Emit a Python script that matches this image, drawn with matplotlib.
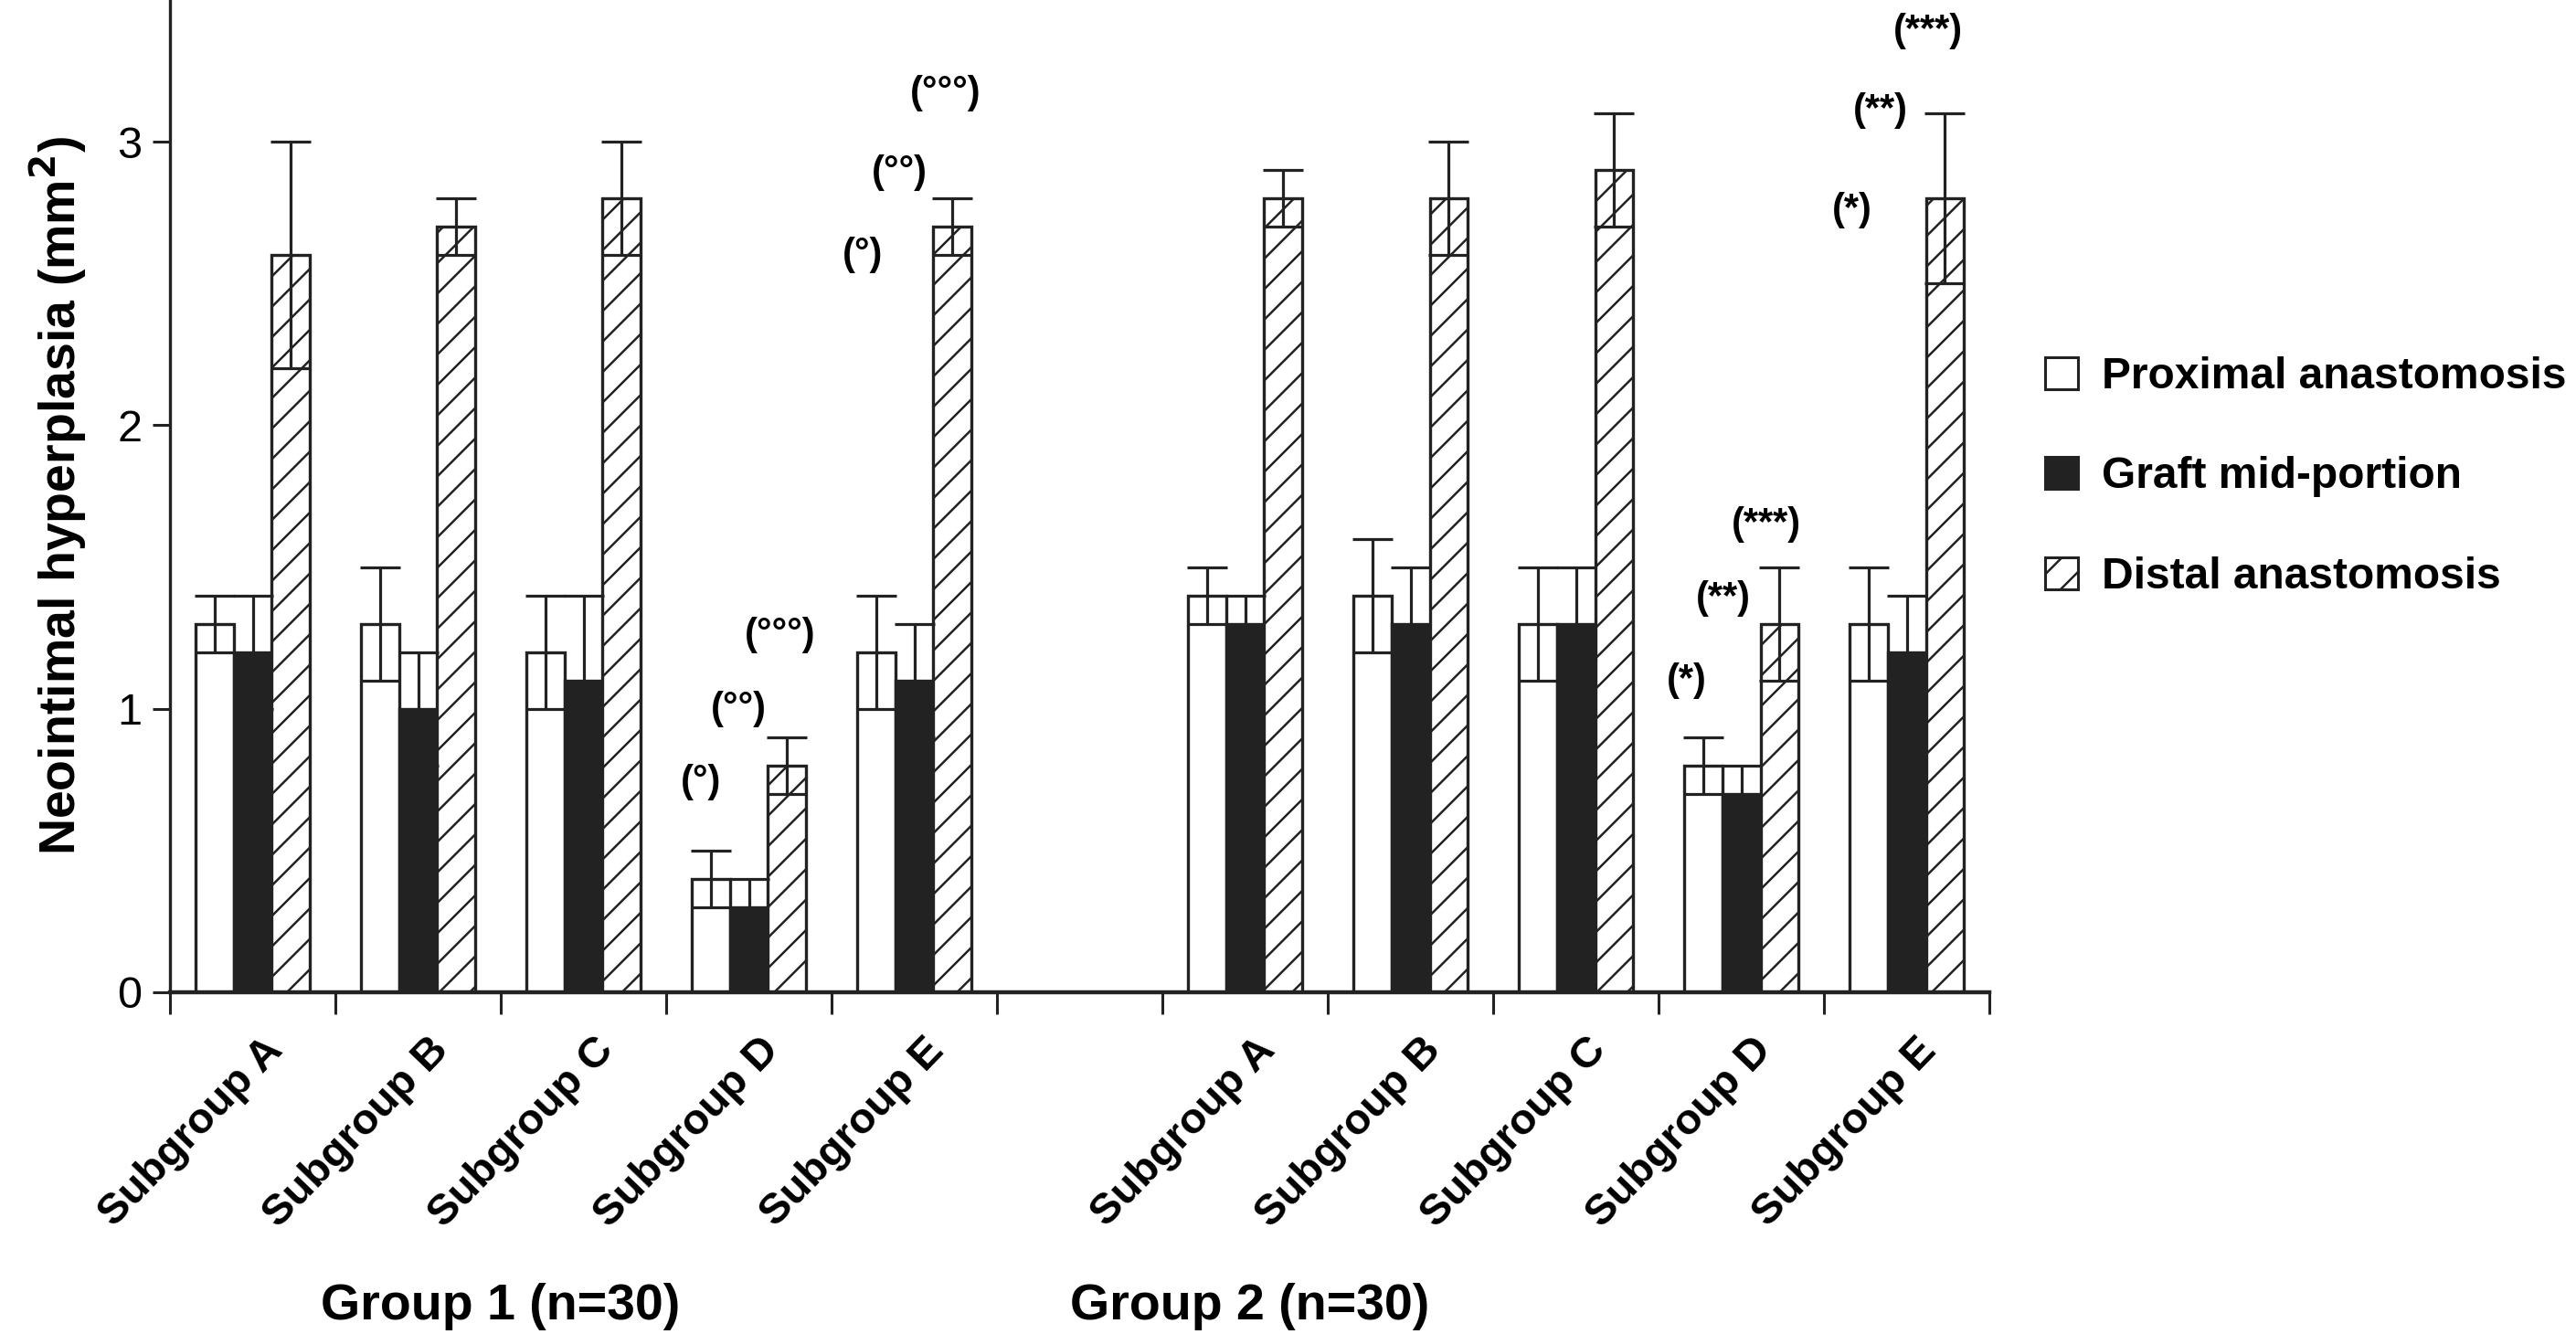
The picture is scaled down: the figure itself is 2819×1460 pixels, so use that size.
import numpy as np
import matplotlib
matplotlib.use("Agg")
import matplotlib.pyplot as plt
from matplotlib.patches import Patch
from matplotlib.transforms import ScaledTranslation

plt.rcParams["font.family"] = ["Liberation Sans", "DejaVu Sans"]
plt.rcParams["hatch.linewidth"] = 1.8
plt.rcParams["hatch.color"] = "#222222"

# data (mm^2)
subgroups = ["Subgroup A", "Subgroup B", "Subgroup C", "Subgroup D", "Subgroup E"]
group_names = ["Group 1 (n=30)", "Group 2 (n=30)"]
series_names = ["Proximal anastomosis", "Graft mid-portion", "Distal anastomosis"]

proximal_g1 = [1.3, 1.3, 1.2, 0.4, 1.2]
proximal_sd_g1 = [0.1, 0.2, 0.2, 0.1, 0.2]
mid_g1 = [1.2, 1.0, 1.1, 0.3, 1.1]
mid_sd_g1 = [0.2, 0.2, 0.3, 0.1, 0.2]
distal_g1 = [2.6, 2.7, 2.8, 0.8, 2.7]
distal_sd_g1 = [0.4, 0.1, 0.2, 0.1, 0.1]

proximal_g2 = [1.4, 1.4, 1.3, 0.8, 1.3]
proximal_sd_g2 = [0.1, 0.2, 0.2, 0.1, 0.2]
mid_g2 = [1.3, 1.3, 1.3, 0.7, 1.2]
mid_sd_g2 = [0.1, 0.2, 0.2, 0.1, 0.2]
distal_g2 = [2.8, 2.8, 2.9, 1.3, 2.8]
distal_sd_g2 = [0.1, 0.2, 0.2, 0.2, 0.3]

# significance marks
note_text = ["(°)", "(°°)", "(°°°)", "(°)", "(°°)", "(°°°)",
             "(*)", "(**)", "(***)", "(*)", "(**)", "(***)"]
note_x = [3.21, 3.44, 3.69, 4.19, 4.41, 4.69, 9.17, 9.39, 9.65, 10.17, 10.34, 10.63]
note_y = [0.74, 1.00, 1.26, 2.60, 2.89, 3.17, 1.10, 1.39, 1.65, 2.76, 3.11, 3.39]

group_label_x = [2.0, 6.53]

ink = "#222222"

fig = plt.figure(figsize=(28.19, 14.60), dpi=100)
ax = fig.add_axes([0.066, 0.2562, 0.7063, 0.7438])

slots = np.r_[np.arange(5), np.arange(6, 11)] + 0.5
w = 0.231
means = [proximal_g1 + proximal_g2, mid_g1 + mid_g2, distal_g1 + distal_g2]
sds = [proximal_sd_g1 + proximal_sd_g2, mid_sd_g1 + mid_sd_g2,
       distal_sd_g1 + distal_sd_g2]
faces = ["white", ink, "white"]
hatches = [None, None, "/"]

for k in range(3):
    xs = slots + (k - 1) * w
    ax.bar(xs, means[k], width=w, color=faces[k], edgecolor=ink,
           hatch=hatches[k], linewidth=2.4, zorder=2)
    ax.errorbar(xs, means[k], yerr=sds[k], fmt="none", ecolor=ink,
                elinewidth=2.3, capsize=15.5, capthick=2.3, zorder=3)

for t, x, y in zip(note_text, note_x, note_y):
    ax.text(x, y, t, ha="center", va="center", fontsize=30, fontweight="bold",
            color="black")

ax.set_xlim(0, 11)
ax.set_ylim(0, 3.5)
ax.set_yticks([0, 1, 2, 3])
ax.tick_params(axis="y", labelsize=35, length=14, width=2.2, pad=8,
               color=ink)

ax.set_xticks(np.arange(12))
ax.set_xticklabels([])
ax.tick_params(axis="x", which="major", length=17, width=2.2, color=ink)
ax.set_xticks(slots, minor=True)
ax.set_xticklabels(subgroups * 2, minor=True)
ax.tick_params(axis="x", which="minor", length=0, pad=30, labelsize=34)
offset = ScaledTranslation(0.10, 0, fig.dpi_scale_trans)
for lab in ax.get_xticklabels(minor=True):
    lab.set_rotation(46)
    lab.set_ha("right")
    lab.set_va("top")
    lab.set_rotation_mode("anchor")
    lab.set_fontweight("bold")
    lab.set_transform(lab.get_transform() + offset)

ax.set_ylabel("Neointimal hyperplasia (mm$^\\mathbf{2}$)", fontsize=40,
              fontweight="bold", labelpad=22)

for sp in ["top", "right"]:
    ax.spines[sp].set_visible(False)
ax.spines["left"].set_linewidth(2.4)
ax.spines["left"].set_color(ink)
ax.spines["bottom"].set_linewidth(3.2)
ax.spines["bottom"].set_color(ink)

for name, x in zip(group_names, group_label_x):
    ax.annotate(name, xy=(x, 0.0205), xycoords=("data", "figure fraction"),
                ha="center", va="center", fontsize=40, fontweight="bold",
                annotation_clip=False)

handles = [Patch(facecolor=faces[k], edgecolor=ink, hatch=hatches[k],
                 linewidth=2.2) for k in range(3)]
fig.legend(handles, series_names, loc="center left",
           bbox_to_anchor=(0.7905, 0.6425), frameon=False,
           prop={"weight": "bold", "size": 34.5}, handlelength=0.75,
           handleheight=0.75, handletextpad=0.55, labelspacing=1.35,
           borderpad=0.2, borderaxespad=0.0)

fig.savefig("out.png", dpi=100, facecolor="white")
